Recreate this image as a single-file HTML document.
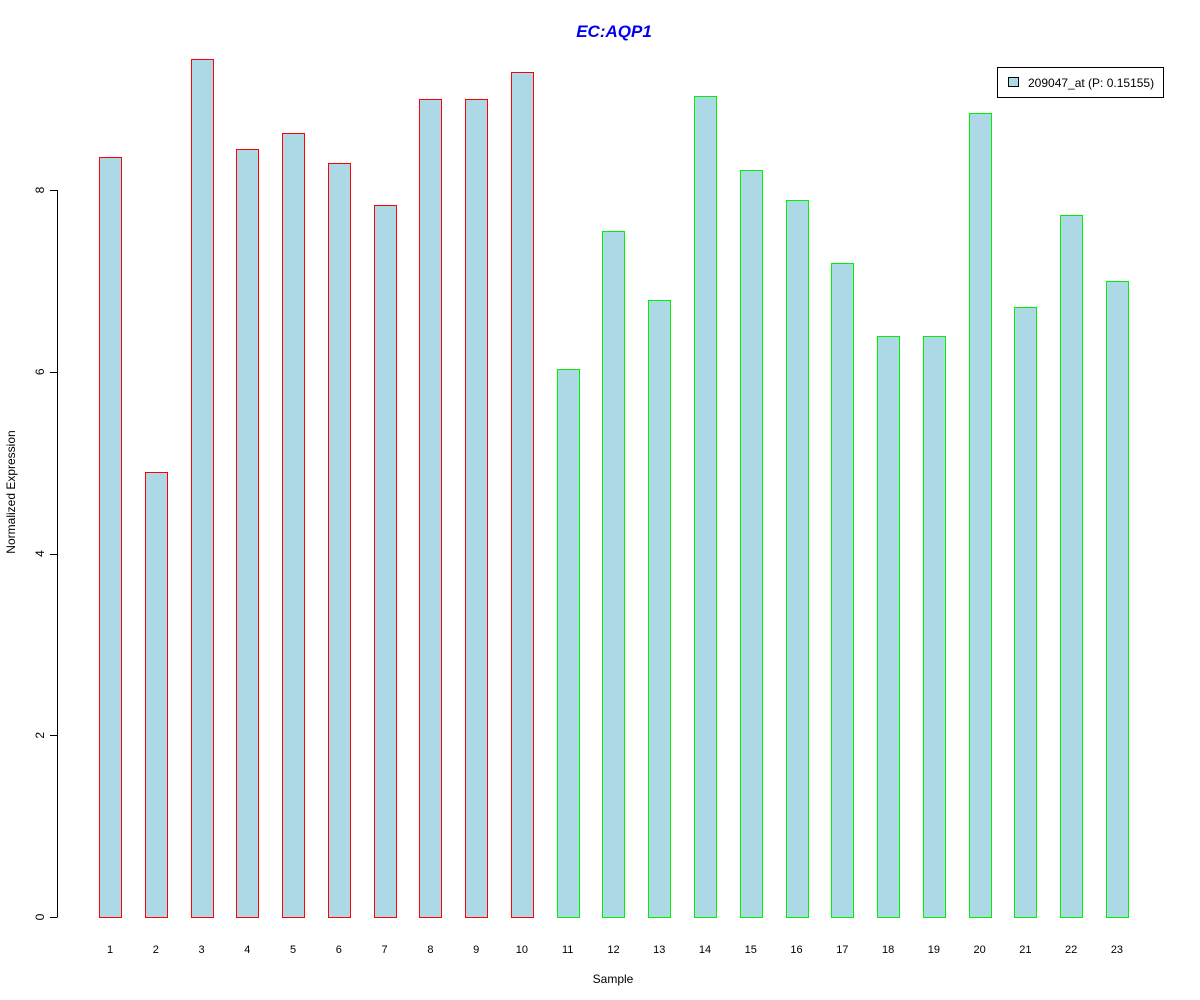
<!DOCTYPE html>
<html><head><meta charset="utf-8"><style>
body{margin:0;background:#fff;}
svg{display:block;font-family:"Liberation Sans",Arial,sans-serif;}
</style></head><body>
<svg id="chart" width="1200" height="1000">
<text x="614" y="37" text-anchor="middle" font-size="17" font-weight="bold" font-style="italic" fill="#0000ee">EC:AQP1</text>
<text transform="translate(15,492) rotate(-90)" text-anchor="middle" font-size="12">Normalized Expression</text>
<text x="613" y="983" text-anchor="middle" font-size="12">Sample</text>
<g id="yaxis"></g>
<g id="bars"></g>
<g id="xlabels"></g>
<g>
<rect x="997.5" y="67.5" width="166" height="30" fill="#fff" stroke="#000"/>
<rect x="1008.5" y="77.5" width="10" height="9" fill="#add8e6" stroke="#000"/>
<text x="1028" y="87" font-size="12">209047_at (P: 0.15155)</text>
</g>
</svg>
<script>
const categories=["1","2","3","4","5","6","7","8","9","10","11","12","13","14","15","16","17","18","19","20","21","22","23"];
const values=[8.36,4.90,9.44,8.45,8.63,8.30,7.83,9.00,9.00,9.30,6.03,7.55,6.79,9.03,8.22,7.89,7.20,6.39,6.39,8.85,6.71,7.72,7.00];
const groups=["red","red","red","red","red","red","red","red","red","red","green","green","green","green","green","green","green","green","green","green","green","green","green"];
const yTicks=[0,2,4,6,8];
const NS="http://www.w3.org/2000/svg";
const y=v=>917-v*90.875;
const x=i=>110+i*45.77;
const strokeFor={red:"#ff0000",green:"#00ee00"};
function mk(t,a,p){const e=document.createElementNS(NS,t);for(const k in a)e.setAttribute(k,a[k]);p.appendChild(e);return e;}
const ya=document.getElementById('yaxis');
mk('line',{x1:57.5,x2:57.5,y1:y(yTicks[0]),y2:y(yTicks[yTicks.length-1]),stroke:'#000'},ya);
yTicks.forEach(t=>{
 const l=mk('line',{x1:50,x2:57.5,y1:Math.round(y(t))+0.5,y2:Math.round(y(t))+0.5,stroke:'#000'},ya);
 
 
 const tx=mk('text',{transform:`translate(44,${y(t)}) rotate(-90)`,'text-anchor':'middle','font-size':12},ya);
 tx.textContent=t;
 
 
});
const bg=document.getElementById('bars'),xl=document.getElementById('xlabels');
values.forEach((v,i)=>{
 const r=mk('rect',{x:Math.round(x(i)-11)+0.5,y:Math.round(y(v))+0.5,width:22,height:Math.round(y(0))-Math.round(y(v)),fill:'#add8e6',stroke:strokeFor[groups[i]]},bg);
 
 
 const t=mk('text',{x:x(i),y:953,'text-anchor':'middle','font-size':11},xl);
 t.textContent=categories[i];
 
 
});
</script>
</body></html>
